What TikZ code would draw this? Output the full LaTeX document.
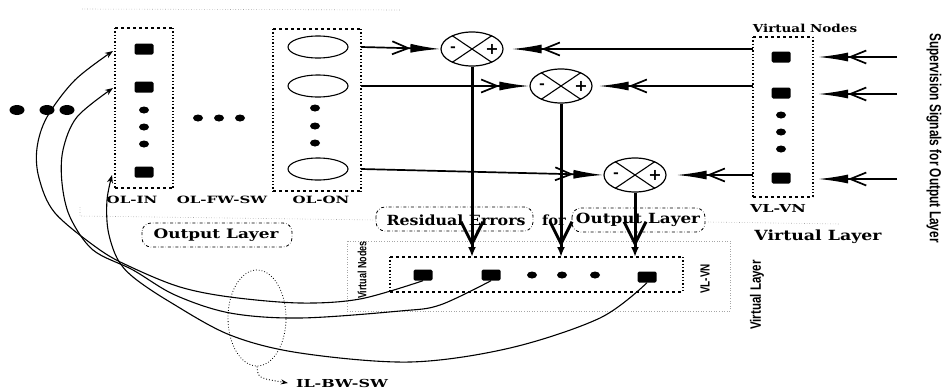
\documentclass[tikz,border=0pt]{standalone}
\usepackage{fontspec}
\setmainfont{DejaVu Serif}
\setsansfont{Liberation Sans}
\usetikzlibrary{arrows.meta,shapes.geometric,calc}
\begin{document}
\begin{tikzpicture}[x=1pt,y=-1pt,
  sq/.style={fill=black, minimum width=19pt, minimum height=11pt, inner sep=0pt, rounded corners=1.5pt},
  dt/.style={fill=black, ellipse, minimum width=10pt, minimum height=7pt, inner sep=0pt},
  bigdt/.style={fill=black, ellipse, minimum width=15pt, minimum height=10pt, inner sep=0pt},
  onode/.style={draw, ellipse, line width=1.1pt, minimum width=60pt, minimum height=22pt, inner sep=0pt},
  sum/.style={draw, ellipse, line width=1.2pt, minimum width=62pt, minimum height=34pt, inner sep=0pt},
  dart/.style={line width=1.7pt, -{Straight Barb[length=16pt,width=13pt,sep=0pt]Latex[length=30pt,width=9pt]}},
  down/.style={line width=3pt, -{Straight Barb[length=22pt,width=22pt,sep=0pt]Latex[length=10pt,width=8pt]}},
  back/.style={line width=1.1pt, -{Stealth[length=8pt,width=6pt]}},
  lbl/.style={inner sep=0pt},
  faint/.style={draw=gray!70, dotted, line width=0.6pt},
  ddbox/.style={draw, dash dot, rounded corners=9pt, line width=0.8pt},
  frame/.style={inner sep=0pt, outer sep=0pt},
  dashside/.style={dashed, line width=1.1pt},
  dotside/.style={dotted, line width=1.3pt}
]
\useasboundingbox (0,0) rectangle (944,389);

% faint dotted layer frames
\draw[faint] (82,9) -- (400,10);
\draw[faint] (80,207) -- (80,216) -- (376,220);
\draw[faint] (708,222) -- (840,224);
\draw[faint] (347,241) rectangle (730,311);

% ---------- OL-IN ----------
\node[frame, minimum width=58pt, minimum height=160pt] (olin) at (144,108) {};
\draw[dashside] (olin.north west) -- (olin.north east) (olin.south west) -- (olin.south east);
\draw[dotside] (olin.north west) -- (olin.south west) (olin.north east) -- (olin.south east);
\node[sq] (i1) at (144,49) {};
\node[sq] (i2) at (144,87) {};
\node[dt] (id1) at (144,110) {};
\node[dt] (id2) at (144,127) {};
\node[dt] (id3) at (144,144) {};
\node[sq] (i3) at (144,172) {};

% left dots
\node[bigdt] (l1) at (17,110) {};
\node[bigdt] (l2) at (47,110) {};
\node[bigdt] (l3) at (67,110) {};
% middle dots
\node[dt] (m1) at (198,118) {};
\node[dt] (m2) at (219,118) {};
\node[dt] (m3) at (240,118) {};

% ---------- OL-ON ----------
\node[frame, minimum width=88pt, minimum height=162pt] (olon) at (317,110) {};
\draw[dashside] (olon.north west) -- (olon.north east) (olon.south west) -- (olon.south east);
\draw[dotside] (olon.north west) -- (olon.south west) (olon.north east) -- (olon.south east);
\node[onode] (o1) at (318,47) {};
\node[onode] (o2) at (318,86) {};
\node[dt] (od1) at (315,108) {};
\node[dt] (od2) at (315,126) {};
\node[dt] (od3) at (315,143) {};
\node[onode] (o3) at (318,169) {};

% labels
\node[lbl] (tolin) at (132,200) {\fontsize{10}{10}\selectfont\bfseries\scalebox{1.5}[1]{OL-IN}};
\node[lbl] (tolfw) at (222,200) {\fontsize{10}{10}\selectfont\bfseries\scalebox{1.5}[1]{OL-FW-SW}};
\node[lbl] (tolon) at (321,200) {\fontsize{10}{10}\selectfont\bfseries\scalebox{1.5}[1]{OL-ON}};

% ---------- sums ----------
\foreach \n/\x/\y in {s1/472/49, s2/561/86, s3/635/175}{
  \node[sum] (\n) at (\x,\y) {};
  \draw[line width=1.1pt] (\n.146) -- (\n.-34) (\n.34) -- (\n.-146);
  \node[inner sep=0pt, font=\fontsize{14}{14}\selectfont\bfseries] at ([xshift=-19pt]\n.center) {-};
  \node[inner sep=0pt, font=\fontsize{16}{16}\selectfont\bfseries] at ([xshift=20pt]\n.center) {+};
}

% ---------- virtual nodes (top right) ----------
\node[frame, minimum width=60pt, minimum height=160pt] (vn) at (783,117) {};
\draw[dashside] (vn.north west) -- (vn.north east) (vn.south west) -- (vn.south east);
\draw[dotside] (vn.north west) -- (vn.south west) (vn.north east) -- (vn.south east);
\node[sq] (v1) at (781,57) {};
\node[sq] (v2) at (781,93) {};
\node[dt] (vd1) at (781,115) {};
\node[dt] (vd2) at (781,132) {};
\node[dt] (vd3) at (781,149) {};
\node[sq] (v3) at (781,178) {};
\node[lbl] (tvn) at (805,28) {\fontsize{11}{11}\selectfont\bfseries\scalebox{1.23}[1]{Virtual Nodes}};
\node[lbl] (tvlvn) at (778,208) {\fontsize{11}{11}\selectfont\bfseries\scalebox{1.45}[1]{VL-VN}};
\node[lbl] (tvl) at (818,237) {\fontsize{14}{14}\selectfont\bfseries\scalebox{1.24}[1]{Virtual Layer}};

% supervision
\node[lbl, rotate=-90] (tsup) at (934,138) {\fontsize{16}{16}\selectfont\sffamily\bfseries\scalebox{0.74}[1]{Supervision Signals for Output Layer}};
\coordinate (sp1) at (897,57);
\coordinate (sp2) at (897,94);
\coordinate (sp3) at (897,179);
\draw[dart, shorten >=5pt] (sp1) -- (vn.east |- sp1);
\draw[dart, shorten >=5pt] (sp2) -- (vn.east |- sp2);
\draw[dart, shorten >=5pt] (sp3) -- (vn.east |- sp3);

% arrows into sums
\draw[dart] (olon.east |- o1) -- (s1.west);
\draw[dart] (olon.east |- o2) -- (s2.west);
\draw[dart] (olon.east |- o3) -- (s3.west);
\draw[dart, shorten >=8pt] (vn.west |- s1) -- (s1.east);
\draw[dart, shorten >=6pt] (vn.west |- s2) -- (s2.east);
\draw[dart, shorten >=10pt] (vn.west |- s3) -- (s3.east);

% ---------- bottom virtual nodes ----------
\node[frame, minimum width=293pt, minimum height=35pt] (vb) at (536.5,274.5) {};
\draw[dashside] (vb.north west) -- (vb.north east) (vb.south west) -- (vb.south east);
\draw[dotside] (vb.north west) -- (vb.south west) (vb.north east) -- (vb.south east);
\node[sq] (b1) at (423,275) {};
\node[sq] (b2) at (491,275) {};
\node[dt] (bd1) at (532,275) {};
\node[dt] (bd2) at (562,275) {};
\node[dt] (bd3) at (595,275) {};
\node[sq] (b3) at (647,277) {};
\node[lbl, rotate=90] (tvnv) at (362,270) {\fontsize{12}{12}\selectfont\sffamily\bfseries\scalebox{0.75}[1]{Virtual Nodes}};
\node[lbl, rotate=90] (tvlvnv) at (705,279) {\fontsize{11}{11}\selectfont\sffamily\bfseries\scalebox{0.9}[1.2]{VL-VN}};
\node[lbl, rotate=90] (tvlv) at (757,295) {\fontsize{15}{15}\selectfont\sffamily\bfseries\scalebox{0.77}[1]{Virtual Layer}};

% residual errors label
\node[lbl] (tres) at (456,220) {\fontsize{14}{14}\selectfont\bfseries\scalebox{1.13}[1]{Residual Errors}};
\node[lbl] (tfor) at (554,220) {\fontsize{14}{14}\selectfont\bfseries\scalebox{1.05}[1]{for}};
\node[lbl] (tout) at (638,220) {\fontsize{14}{14}\selectfont\bfseries\scalebox{1.2}[1]{Output Layer}};
\draw[ddbox] (376,207) rectangle (533,231);
\draw[ddbox] (572,208) rectangle (705,232);

% thick down arrows
\draw[down] (s1.south) -- (s1.south |- vb.north);
\draw[down] (s2.south) -- (s2.south |- vb.north);
\draw[down] (s3.south) -- (s3.south |- vb.north);

% output layer label
\node[lbl] (tol) at (216,235) {\fontsize{13}{13}\selectfont\bfseries\scalebox{1.3}[1]{Output Layer}};
\draw[ddbox] (142,223) rectangle (292,247);

% ---------- feedback curves ----------
\coordinate (t1) at (113,51);
\coordinate (t2) at (113,88);
\coordinate (t3) at (112,175);
\draw[back] plot[smooth, tension=0.55] coordinates {(b1.south) (360,299) (300,303) (230,297) (180,287) (133,268) (100,250) (55,213) (39,178) (37,148) (47,117) (75,80) (t1)};
\draw[back] plot[smooth, tension=0.55] coordinates {(b2.south) (440,305) (400,311) (300,318) (230,313) (175,295) (133,270) (93,250) (70,217) (62,183) (63,150) (77,117) (t2)};
\draw[back] plot[smooth, tension=0.55] coordinates {(b3.south) (600,318) (510,348) (410,362) (300,353) (230,335) (170,302) (133,277) (117,258) (108,230) (107,200) (t3)};

% IL-BW-SW
\node[draw, dotted, ellipse, line width=0.8pt, minimum width=58pt, minimum height=96pt, inner sep=0pt] (ile) at (257,318) {};
\node[lbl] (tilbw) at (342,383) {\fontsize{11}{11}\selectfont\bfseries\scalebox{1.45}[1]{IL-BW-SW}};
\draw[dotted, line width=0.9pt, -{Stealth[length=7pt,width=5pt]}] (ile.south) .. controls (258,378) .. ([xshift=-8pt]tilbw.west);
\end{tikzpicture}
\end{document}
